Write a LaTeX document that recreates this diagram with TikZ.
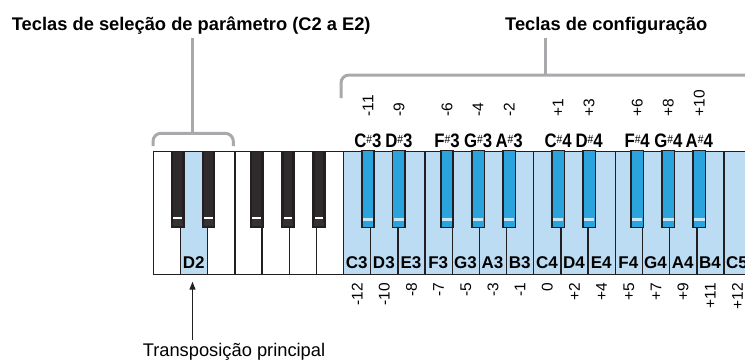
\documentclass[tikz,border=0pt]{standalone}
\usepackage{fontspec}
\setmainfont{Liberation Sans}
\usetikzlibrary{arrows.meta}
\definecolor{keyline}{HTML}{231F20}
\definecolor{selblue}{HTML}{BCDCF3}
\definecolor{keyblue}{HTML}{2BA3DD}
\definecolor{hlblue}{HTML}{C6E7F8}
\definecolor{brgray}{HTML}{A7A9AC}
\definecolor{bkinner}{HTML}{2F2B2C}
\newcommand\shp{\raisebox{0.22em}{\fontsize{12}{12}\selectfont\mdseries\#}}
\newcommand\blk[1]{\scalebox{0.86}[1]{#1}}
\tikzset{
  wkey/.style={rectangle, draw=keyline, line width=1.4pt, minimum width=27.17pt, minimum height=123.3pt, inner sep=0pt, anchor=north west},
  wlab/.style={font=\fontsize{17}{18}\selectfont\bfseries, inner sep=0pt, anchor=base},
  blab/.style={font=\fontsize{19.5}{20}\selectfont\bfseries, inner sep=0pt, anchor=base},
  numlab/.style={font=\fontsize{15.5}{17}\selectfont, inner sep=0pt, rotate=90},
  ttl/.style={font=\fontsize{18.3}{20}\selectfont\bfseries, inner sep=0pt, anchor=base west},
  bracket/.style={draw=brgray, line width=3pt, rounded corners=8pt},
}
\begin{document}
\begin{tikzpicture}[x=1pt,y=-1pt]
\useasboundingbox (0,0) rectangle (745,362);
\begin{scope}
\clip (0,0) rectangle (745,362);
% white keys
\foreach \n [count=\i from 0] in {C2,D2,E2,F2,G2,A2,B2,C3,D3,E3,F3,G3,A3,B3,C4,D4,E4,F4,G4,A4,B4,C5} {
  \pgfmathsetmacro\xl{152.7+\i*27.17}
  \pgfmathtruncatemacro\isb{or(\i==1,\i>=7)}
  \ifnum\isb=1 \def\kf{selblue}\else\def\kf{white}\fi
  \node[wkey, fill=\kf] (k\n) at (\xl,150.7) {};
  \ifnum\isb=1
    \node[wlab] (l\n) at (\xl+13.8,268.5) {\n};
  \fi
}
% black keys
\foreach \o in {0,1,2} {
  \foreach \b/\off/\nm/\s in {1/-2.1/C/1,2/1.7/D/3,4/-4.6/F/6,5/-0.6/G/8,6/3.2/A/10} {
    \pgfmathsetmacro\cx{152.7+(\b+7*\o)*27.17+\off}
    \pgfmathtruncatemacro\oc{\o+2}
    \ifnum\o=0
      \fill[keyline] (\cx-6.75,150.7) rectangle (\cx+6.75,228);
      \fill[bkinner] (\cx-4.3,151.5) rectangle (\cx+4.3,216.5);
      \fill[white] (\cx-4.3,216.5) rectangle (\cx+4.3,219.2);
      \fill[black!80] (\cx-4.3,219.2) -- (\cx+4.3,219.2) -- (\cx+5.3,226) -- (\cx-5.3,226) -- cycle;
    \else
      \draw[keyline, fill=keyblue, line width=1.5pt] (\cx-6.2,150.7) rectangle (\cx+6.2,227.3);
      \fill[hlblue] (\cx-5.2,217.5) rectangle (\cx+5.2,220.5);
      \node[blab] (b\nm\oc) at (\cx,147.3) {\blk{\nm\shp\oc}};
      \pgfmathtruncatemacro\v{\s+12*(\o-2)}
      \node[numlab, anchor=west] (n\nm\oc) at (\cx,116.5) {\ifnum\v>0 +\fi\v};
    \fi
  }
}
% numbers below white keys
\foreach \v [count=\j from 7] in {-12,-10,-8,-7,-5,-3,-1,0,+2,+4,+5,+7,+9,+11,+12} {
  \pgfmathsetmacro\cx{152.7+\j*27.17+14.2}
  \node[numlab, anchor=east] (m\j) at (\cx,283) {\v};
}
% titles and brackets
\node[ttl] (t1) at (11.7,30) {Teclas de seleção de parâmetro (C2 a E2)};
\node[ttl] (t2) at (505,30) {Teclas de configuração};
\coordinate (s1) at (192.7,133.3);
\coordinate (s2) at (545.7,75);
\draw[bracket] (153,146) -- (153,133.3) -- (233.3,133.3) -- (233.3,146);
\draw[draw=brgray, line width=3pt] (s1 |- 0,38) -- (s1);
\draw[bracket] (341,98) -- (341,75) -- (770,75);
\draw[draw=brgray, line width=3pt] (s2 |- 0,38) -- (s2);
% arrow and bottom label
\node[font=\fontsize{18.3}{20}\selectfont, inner sep=0pt, anchor=base] (trans) at (234,356.5) {Transposição principal};
\coordinate (a1) at (192.5,340);
\draw[keyline, line width=1.1pt, -{Triangle[length=8pt,width=6pt]}] (a1) -- (a1 |- 0,281.7);
\end{scope}
\end{tikzpicture}
\end{document}
